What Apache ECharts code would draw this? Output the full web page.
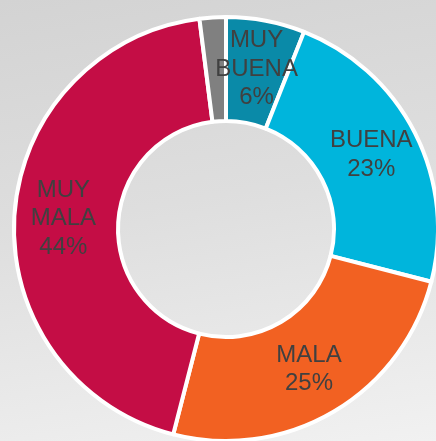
<!DOCTYPE html>
<html lang="es">
<head>
    <meta charset="UTF-8">
    <title>Valoracion</title>
    <script src="https://cdn.jsdelivr.net/npm/echarts@6/dist/echarts.min.js"></script>
    <style>
        html, body { margin: 0; padding: 0; }
        #chart {
            width: 436px;
            height: 441px;
            background: linear-gradient(170deg, #d3d3d3 0%, #dedede 45%, #f1f1f1 100%);
        }
    </style>
</head>
<body>
<div id="chart"></div>
<script>
    // data
    var categories = ['MUY BUENA', 'BUENA', 'MALA', 'MUY MALA', 'NSNC'];
    var values = [6, 23, 25, 44, 2];
    var colors = ['#0a8aa8', '#00b5dc', '#f26122', '#c40d45', '#808080'];

    var chart = echarts.init(document.getElementById('chart'));

    var pieData = categories.map(function (name, i) {
        var item = { name: name, value: values[i], itemStyle: { color: colors[i] } };
        if (name === 'NSNC') {
            item.label = { offset: [-31, -34] };
        }
        return item;
    });

    var option = {
        backgroundColor: 'transparent',
        animation: false,
        series: [
            {
                type: 'pie',
                center: [226, 229],
                radius: [108, 212],
                startAngle: 90,
                clockwise: true,
                avoidLabelOverlap: false,
                itemStyle: {
                    borderColor: '#ffffff',
                    borderWidth: 4
                },
                label: {
                    show: true,
                    position: 'inside',
                    color: '#404040',
                    fontFamily: 'Liberation Sans, Arial, sans-serif',
                    fontSize: 24,
                    lineHeight: 28.5,
                    formatter: function (p) {
                        return p.name.split(' ').join('\n') + '\n' + p.percent + '%';
                    }
                },
                labelLine: { show: false },
                emphasis: { disabled: true },
                data: pieData
            }
        ]
    };

    option && chart.setOption(option);
</script>
</body>
</html>
